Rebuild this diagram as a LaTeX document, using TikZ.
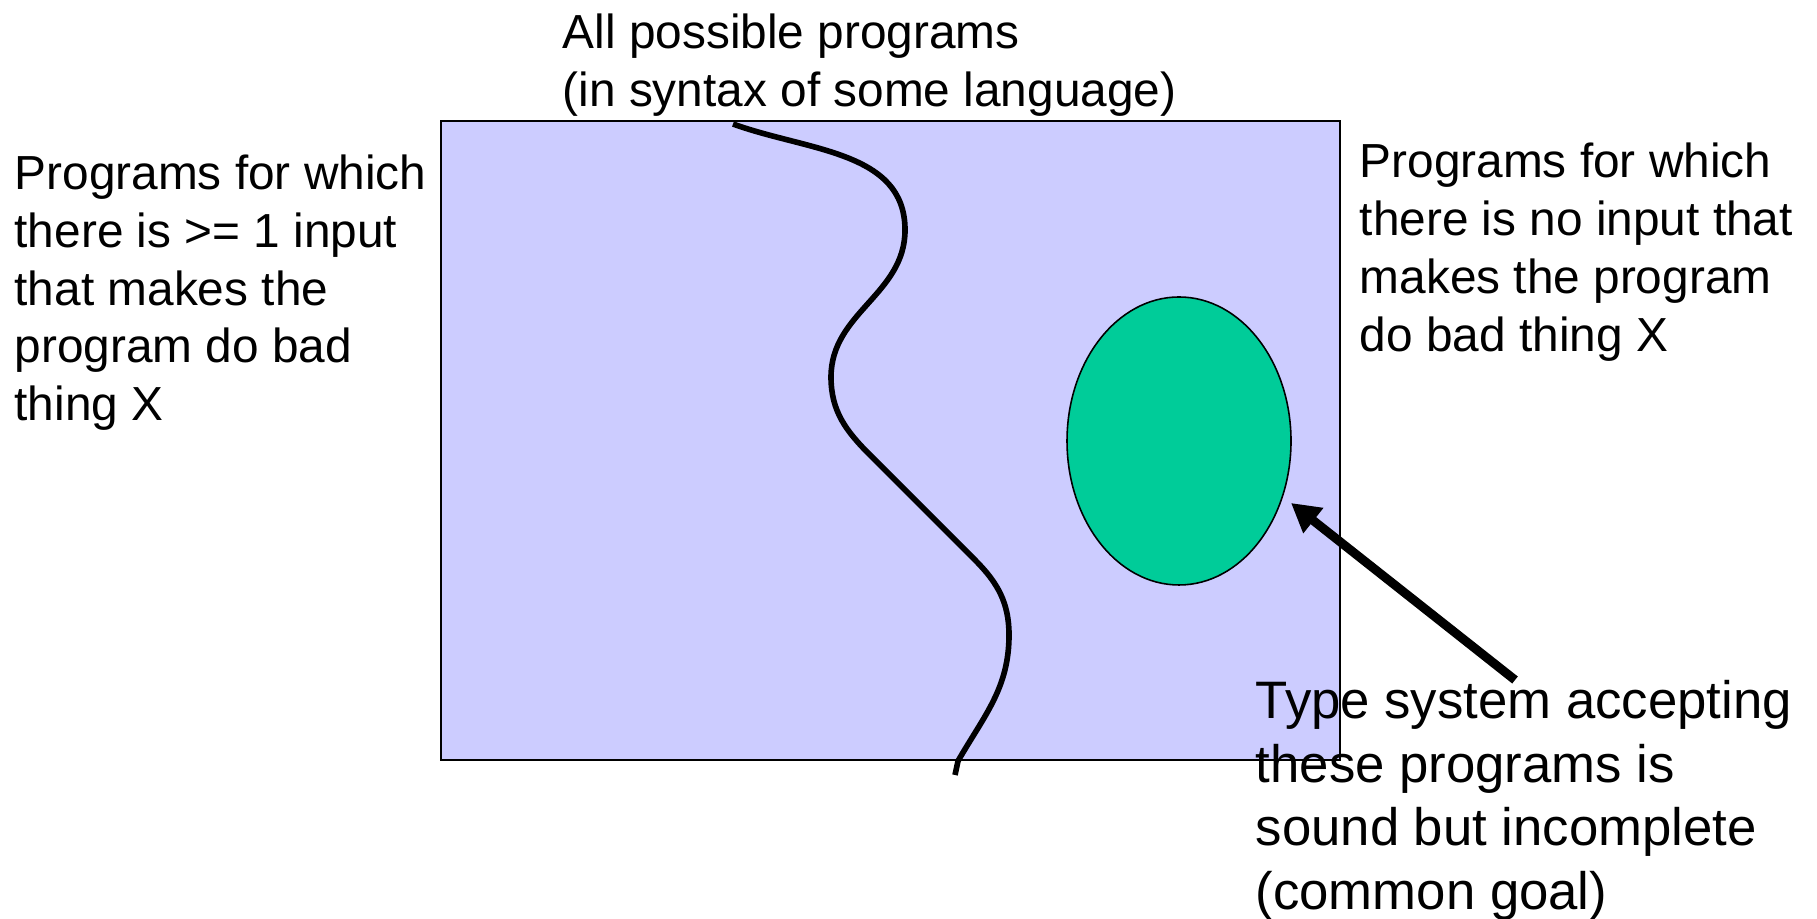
\documentclass[tikz,border=0pt]{standalone}
\usepackage{fontspec}
\setmainfont{Liberation Sans}
\usetikzlibrary{arrows.meta,shapes.geometric}

\definecolor{lavender}{RGB}{204,204,255}
\definecolor{seagreen}{RGB}{0,204,153}

\begin{document}
\begin{tikzpicture}[
  note/.style={anchor=north west, align=left, inner sep=0pt, font=\fontsize{13.6pt}{16.5pt}\selectfont},
  bignote/.style={note, font=\fontsize{15pt}{18.1pt}\selectfont}]
  \useasboundingbox (0,0) rectangle (18.17,9.19);

  \draw[line width=0.55pt, fill=lavender] (4.41,1.59) rectangle (13.40,7.98);

  % line splitting good and bad programs
  \draw[line width=1.6pt] (7.33,7.95) to[out=-20,in=90] (9.05,6.89)
    to[out=-90,in=90] (8.31,5.42) to[out=-90,in=135] (8.70,4.64)
    -- (9.75,3.59) to[out=-45,in=90] (10.09,2.84)
    to[out=-90,in=60] (9.58,1.58) -- (9.55,1.44);

  \node[draw, line width=0.45pt, fill=seagreen, ellipse, minimum width=2.24cm,
        minimum height=2.88cm, inner sep=0pt] (sound) at (11.79,4.78) {};

  \node[note] (all) at (5.62,9.063) {All possible programs\\(in syntax of some language)};
  \node[note] (bad) at (0.14,7.653) {Programs for which\\there is >= 1 input\\that makes the\\program do bad\\thing X};
  \node[note] (good) at (13.59,7.768) {Programs for which\\there is no input that\\makes the program\\do bad thing X};
  \node[bignote] (typesys) at (12.55,2.392) {Type system accepting\\these programs is\\sound but incomplete\\(common goal)};

  \coordinate (tail) at (15.15,2.39);
  \coordinate (tip) at (12.91,4.16);
  \draw[line width=2.55pt, -{Triangle[length=2.85mm,width=3.05mm]}] (tail) -- (tip);
\end{tikzpicture}
\end{document}
